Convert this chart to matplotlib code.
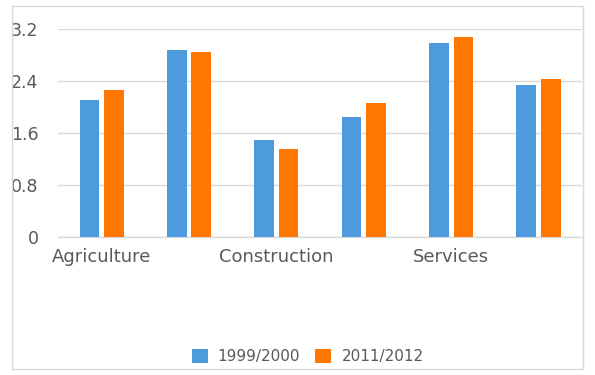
import matplotlib.pyplot as plt
import numpy as np
from matplotlib.patches import Rectangle

# data
categories = ["Agriculture", "", "Construction", "", "Services", ""]
series_names = ["1999/2000", "2011/2012"]
values_1999 = [2.11, 2.88, 1.50, 1.85, 2.99, 2.34]
values_2011 = [2.27, 2.85, 1.36, 2.07, 3.08, 2.44]
y_ticks = [0, 0.8, 1.6, 2.4, 3.2]
y_tick_labels = ["0", "0.8", "1.6", "2.4", "3.2"]

blue = "#4D9BDC"
orange = "#FF7700"
text_color = "#595959"
grid_color = "#D9D9D9"

fig = plt.figure(figsize=(5.95, 3.75), dpi=100)
ax = fig.add_axes([0.0975, 0.368, 0.881, 0.554])

x = np.arange(len(categories))
width = 0.225
offset = 0.14
ax.bar(x - offset, values_1999, width, color=blue, label=series_names[0], zorder=3)
ax.bar(x + offset, values_2011, width, color=orange, label=series_names[1], zorder=3)

ax.set_xlim(-0.5, len(categories) - 0.5)
ax.set_ylim(0, 3.2)
ax.set_yticks(y_ticks)
ax.set_yticklabels(y_tick_labels)
ax.set_xticks(x)
ax.set_xticklabels(categories)

ax.grid(axis="y", color=grid_color, linewidth=1, zorder=0)
for side in ["top", "right", "left"]:
    ax.spines[side].set_visible(False)
ax.spines["bottom"].set_color(grid_color)
ax.spines["bottom"].set_linewidth(1)
ax.tick_params(axis="both", length=0, labelcolor=text_color)
ax.tick_params(axis="y", pad=14, labelsize=12.5)
ax.tick_params(axis="x", pad=8, labelsize=13)

fig.legend(loc="center", bbox_to_anchor=(0.517, 0.05), ncol=2, frameon=False,
           fontsize=11, labelcolor=text_color, handlelength=1.05, handleheight=1.05,
           handletextpad=0.65, columnspacing=1.0)

# outer chart border
fig.patches.append(Rectangle((12 / 595, 6 / 375), 571 / 595, 363 / 375,
                             transform=fig.transFigure, fill=False,
                             edgecolor=grid_color, linewidth=1))

fig.savefig("out.png", dpi=100)
